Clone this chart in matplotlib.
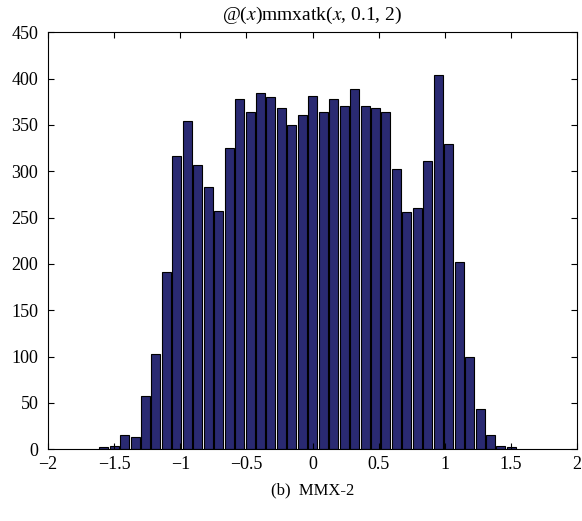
import numpy as np
import matplotlib
matplotlib.use('Agg')
import matplotlib.pyplot as plt

# histogram counts (40 bins)
counts = [2, 4, 15, 13, 57, 103, 191, 316, 354, 307,
          283, 257, 325, 378, 364, 384, 380, 368, 350, 361,
          381, 364, 378, 370, 389, 371, 368, 364, 303, 256,
          260, 311, 404, 329, 202, 100, 44, 15, 4, 3]
data_min = -1.6185
data_max = 1.5435
xticks = [-2, -1.5, -1, -0.5, 0, 0.5, 1, 1.5, 2]
xticklabels = ['\u22122', '\u22121.5', '\u22121', '\u22120.5', '0', '0.5', '1', '1.5', '2']
yticks = [0, 50, 100, 150, 200, 250, 300, 350, 400, 450]

plt.rcParams['font.family'] = ['Liberation Serif', 'DejaVu Serif']
plt.rcParams['mathtext.fontset'] = 'stix'

edges = np.linspace(data_min, data_max, len(counts) + 1)
centers = (edges[:-1] + edges[1:]) / 2
w = edges[1] - edges[0]

fig = plt.figure(figsize=(5.82, 5.21), dpi=100)
ax = fig.add_axes([0.0825, 0.1376, 0.9089, 0.8004])
ax.bar(centers, counts, width=w * 0.86, color='#2a2a72', edgecolor='black', linewidth=0.8)

ax.set_xlim(-2, 2)
ax.set_ylim(0, 450)
ax.set_xticks(xticks)
ax.set_xticklabels(xticklabels)
ax.set_yticks(yticks)
ax.tick_params(direction='in', length=4, width=0.8, labelsize=13, top=True, right=True)
ax.tick_params(axis='x', pad=5)
ax.tick_params(axis='y', pad=7)
for s in ax.spines.values():
    s.set_linewidth(0.8)

ax.set_title(r'@($x$)mmxatk($x$, 0.1, 2)', fontsize=14, pad=9)
fig.text(0.537, 0.058, '(b)  MMX-2', ha='center', va='center', fontsize=12)

fig.savefig('out.png', dpi=100)
